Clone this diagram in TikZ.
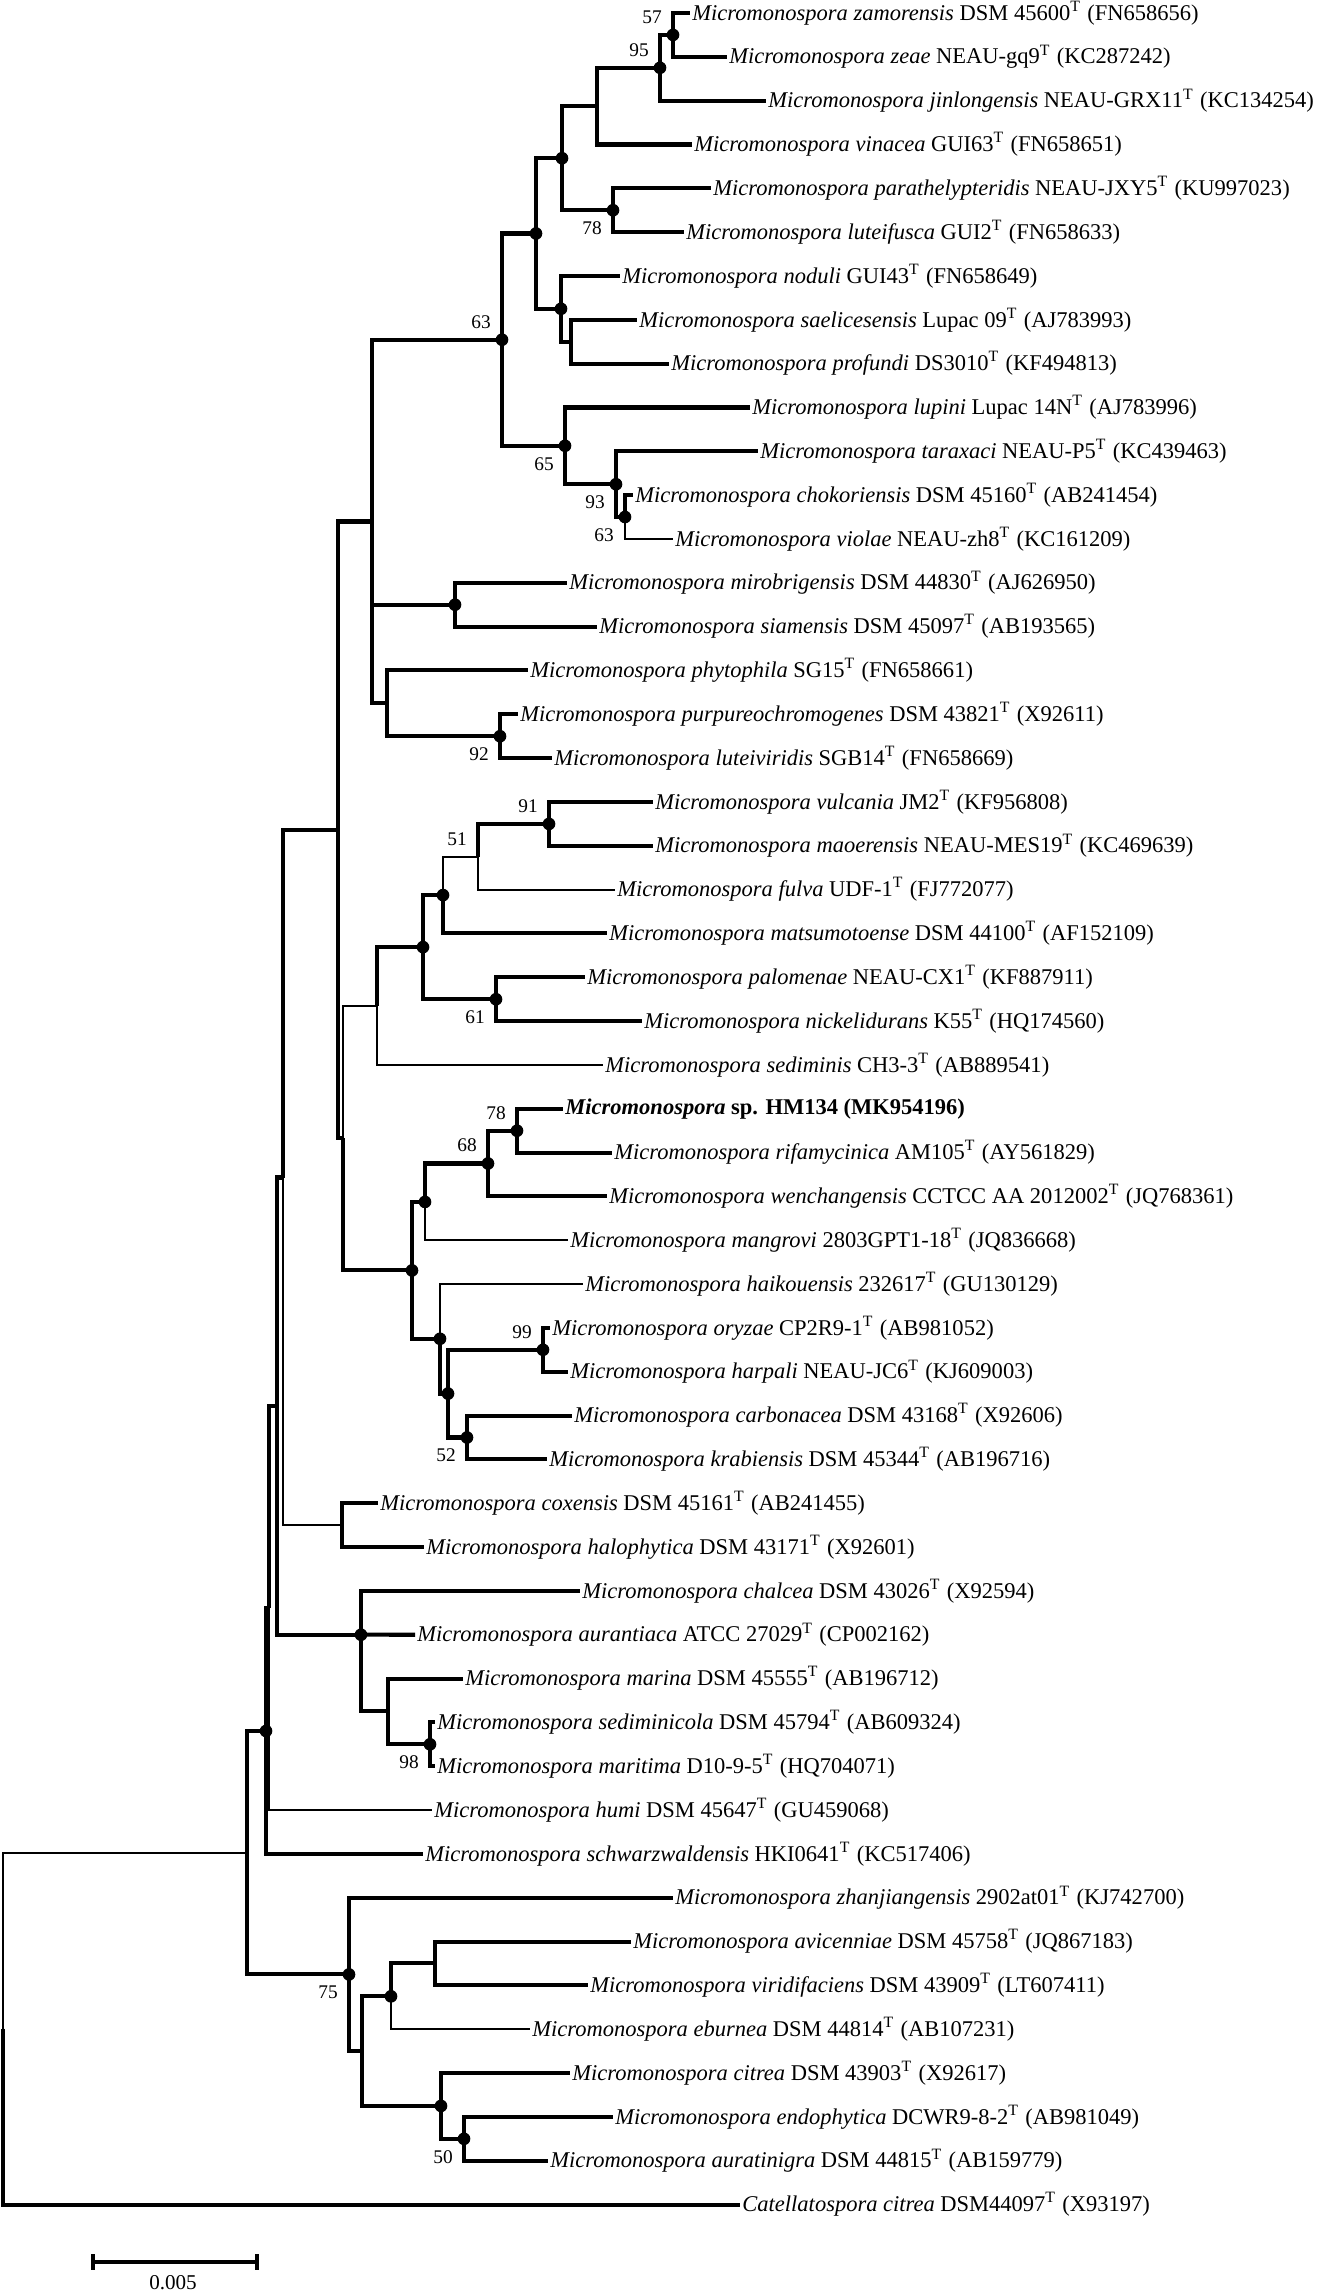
\documentclass[tikz,border=0pt]{standalone}
\usepackage{fontspec}
\setmainfont{Liberation Serif}
\usetikzlibrary{calc}
\tikzstyle{branch}=[line width=1.15pt]
\tikzstyle{thinbranch}=[line width=0.6pt]
\tikzstyle{taxon}=[anchor=west, inner sep=0.5pt, font=\fontsize{6.4}{7}\selectfont]
\tikzstyle{boot}=[inner sep=0pt, font=\fontsize{5.5}{6}\selectfont]
\newcommand{\mic}[1]{\textit{Micromonospora #1}}
\newcommand{\tstrain}{\textsuperscript{T}}

\begin{document}
\begin{tikzpicture}[x=0.01cm, y=-0.01cm]
    \useasboundingbox (0,0) rectangle (1323,2293);

    % taxa, one per row
    \foreach \row/\xe/\name/\txt in {
        1/690/zamo/{\mic{zamorensis} DSM 45600\tstrain{} (FN658656)},
        2/727/zeae/{\mic{zeae} NEAU-gq9\tstrain{} (KC287242)},
        3/766/jinl/{\mic{jinlongensis} NEAU-GRX11\tstrain{} (KC134254)},
        4/692/vina/{\mic{vinacea} GUI63\tstrain{} (FN658651)},
        5/711/para/{\mic{parathelypteridis} NEAU-JXY5\tstrain{} (KU997023)},
        6/684/lute/{\mic{luteifusca} GUI2\tstrain{} (FN658633)},
        7/620/nodu/{\mic{noduli} GUI43\tstrain{} (FN658649)},
        8/637/sael/{\mic{saelicesensis} Lupac 09\tstrain{} (AJ783993)},
        9/669/prof/{\mic{profundi} DS3010\tstrain{} (KF494813)},
        10/750/lupi/{\mic{lupini} Lupac 14N\tstrain{} (AJ783996)},
        11/758/tara/{\mic{taraxaci} NEAU-P5\tstrain{} (KC439463)},
        12/633/chok/{\mic{chokoriensis} DSM 45160\tstrain{} (AB241454)},
        13/673/viol/{\mic{violae} NEAU-zh8\tstrain{} (KC161209)},
        14/567/miro/{\mic{mirobrigensis} DSM 44830\tstrain{} (AJ626950)},
        15/597/siam/{\mic{siamensis} DSM 45097\tstrain{} (AB193565)},
        16/528/phyt/{\mic{phytophila} SG15\tstrain{} (FN658661)},
        17/518/purp/{\mic{purpureochromogenes} DSM 43821\tstrain{} (X92611)},
        18/552/ltvi/{\mic{luteiviridis} SGB14\tstrain{} (FN658669)},
        19/653/vulc/{\mic{vulcania} JM2\tstrain{} (KF956808)},
        20/653/maoe/{\mic{maoerensis} NEAU-MES19\tstrain{} (KC469639)},
        21/615/fulv/{\mic{fulva} UDF-1\tstrain{} (FJ772077)},
        22/607/mats/{\mic{matsumotoense} DSM 44100\tstrain{} (AF152109)},
        23/585/palo/{\mic{palomenae} NEAU-CX1\tstrain{} (KF887911)},
        24/642/nick/{\mic{nickelidurans} K55\tstrain{} (HQ174560)},
        25/603/sedi/{\mic{sediminis} CH3-3\tstrain{} (AB889541)},
        26/563/hmst/{\textbf{\textit{Micromonospora} sp. HM134 (MK954196)}},
        27/612/rifa/{\mic{rifamycinica} AM105\tstrain{} (AY561829)},
        28/607/wenc/{\mic{wenchangensis} CCTCC AA 2012002\tstrain{} (JQ768361)},
        29/568/mang/{\mic{mangrovi} 2803GPT1-18\tstrain{} (JQ836668)},
        30/583/haik/{\mic{haikouensis} 232617\tstrain{} (GU130129)},
        31/550/oryz/{\mic{oryzae} CP2R9-1\tstrain{} (AB981052)},
        32/568/harp/{\mic{harpali} NEAU-JC6\tstrain{} (KJ609003)},
        33/572/carb/{\mic{carbonacea} DSM 43168\tstrain{} (X92606)},
        34/547/krab/{\mic{krabiensis} DSM 45344\tstrain{} (AB196716)},
        35/378/coxe/{\mic{coxensis} DSM 45161\tstrain{} (AB241455)},
        36/424/halo/{\mic{halophytica} DSM 43171\tstrain{} (X92601)},
        37/580/chal/{\mic{chalcea} DSM 43026\tstrain{} (X92594)},
        38/415/aura/{\mic{aurantiaca} ATCC 27029\tstrain{} (CP002162)},
        39/463/mari/{\mic{marina} DSM 45555\tstrain{} (AB196712)},
        40/435/sedc/{\mic{sediminicola} DSM 45794\tstrain{} (AB609324)},
        41/435/mart/{\mic{maritima} D10-9-5\tstrain{} (HQ704071)},
        42/432/humi/{\mic{humi} DSM 45647\tstrain{} (GU459068)},
        43/423/schw/{\mic{schwarzwaldensis} HKI0641\tstrain{} (KC517406)},
        44/673/zhan/{\mic{zhanjiangensis} 2902at01\tstrain{} (KJ742700)},
        45/631/avic/{\mic{avicenniae} DSM 45758\tstrain{} (JQ867183)},
        46/588/viri/{\mic{viridifaciens} DSM 43909\tstrain{} (LT607411)},
        47/530/ebur/{\mic{eburnea} DSM 44814\tstrain{} (AB107231)},
        48/570/citr/{\mic{citrea} DSM 43903\tstrain{} (X92617)},
        49/613/endo/{\mic{endophytica} DCWR9-8-2\tstrain{} (AB981049)},
        50/548/aurt/{\mic{auratinigra} DSM 44815\tstrain{} (AB159779)},
        51/740/cate/{\textit{Catellatospora citrea} DSM44097\tstrain{} (X93197)}}
        \node[taxon] (\name) at (\xe, {13+43.83*(\row-1)}) {\txt};

    % internal nodes
    \foreach \name/\x/\y in {n57/673/34.9, n95/660/67.8, nA/597/106.1, n78/613/210.2,
        nB/562/158.2, nE/571/341.7, nD/561/308.8, nC/536/233.5, n63b/625/517,
        n93/616/484.2, n65/565/445.8, n63/502/339.7, nMiro/455/604.7, n92/500/736.2,
        nPhyto/387/703.3, nF/372/521.5, n91/549/823.9, n51/478/856.7, nG/443/895.1,
        n61/496/999.2, nH/423/947.1, nI/377/1006, n78b/517/1130.7, n68/488/1163.5,
        nK/425/1201.9, n99/543/1349.8, n52/467/1437.5, nM/448/1393.6, nL/440/1338.8,
        nJ/412/1270.4, nO/343/1138.2, nN/338/829.9, nCox/342/1525.1, nP/283/1177.5,
        n98/430/1744.3, nMar/388/1711.4, nAur/361/1634.7, nQ/277/1406.1, nT/269/1608.1,
        nS/266/1731, nX/435/1963.4, nW/391/1996.3, n50/464/2138.8, nY/441/2105.9,
        nV/362/2051.1, n75/349/1974.4, nU/247/1852.7, root/3/2028.6}
        \coordinate (\name) at (\x,\y);

    \foreach \source/\dest in {n95/n57, nA/n95, nB/nA, nB/n78, nC/nB, nC/nD, nD/nE,
        n63/nC, n63/n65, n65/n93, n93/n63b, nF/n63, nF/nMiro, nF/nPhyto, nPhyto/n92,
        nN/nF, nN/nO, nO/nJ, n51/n91, nH/nG, nH/n61, nI/nH, n68/n78b, nK/n68, nJ/nK,
        nJ/nL, nL/nM, nM/n99, nM/n52, nP/nN, nQ/nP, nQ/nAur, nAur/nMar, nMar/n98,
        nT/nQ, nS/nT, nU/nS, nU/n75, n75/nV, nV/nW, nV/nY, nW/nX, nY/n50}
        \draw[branch] (\source) |- (\dest);

    \foreach \source/\dest in {nG/n51, nO/nI, nP/nCox, root/nU}
        \draw[thinbranch] (\source) |- (\dest);

    \foreach \source/\dest in {n57/zamo, n57/zeae, n95/jinl, nA/vina, n78/para, n78/lute,
        nD/nodu, nE/sael, nE/prof, n65/lupi, n93/tara, n63b/chok, nMiro/miro, nMiro/siam,
        nPhyto/phyt, n92/purp, n92/ltvi, n91/vulc, n91/maoe, nG/mats, n61/palo, n61/nick,
        n78b/hmst, n78b/rifa, n68/wenc, n99/oryz, n99/harp, n52/carb, n52/krab,
        nCox/coxe, nCox/halo, nAur/chal, nMar/mari, n98/sedc, n98/mart, nS/schw,
        n75/zhan, nX/avic, nX/viri, nY/citr, n50/endo, n50/aurt, root/cate}
        \draw[branch] (\source) |- (\dest.west);

    \foreach \source/\dest in {n63b/viol, n51/fulv, nI/sedi, nK/mang, nL/haik, nT/humi, nW/ebur}
        \draw[thinbranch] (\source) |- (\dest.west);

    \draw[branch] (nAur) -- (aura.west);

    \foreach \n in {n57, n95, nB, n78, nC, nD, n63, n65, n93, n63b, nMiro, n92, n91,
        nG, nH, n61, n78b, n68, nK, nJ, nL, nM, n99, n52, nAur, n98, nS, n75, nW, nY, n50}
        \fill (\n) circle (1.8pt);

    % bootstrap values
    \foreach \n/\v/\d in {n57/57/-1, n95/95/-1, n78/78/1, n63/63/-1, n65/65/1, n93/93/1,
        n63b/63/1, n92/92/1, n91/91/-1, n51/51/-1, n61/61/1, n78b/78/-1, n68/68/-1,
        n99/99/-1, n52/52/1, n98/98/1, n75/75/1, n50/50/1}
        \node[boot] at ($(\n)+(-21,\d*18)$) {\v};

    % scale bar
    \coordinate (sbl) at (93,2262);
    \coordinate (sbr) at (257,2262);
    \draw[branch] (sbl) -- (sbr);
    \draw[branch] ($(sbl)+(0,-8)$) -- ($(sbl)+(0,8)$);
    \draw[branch] ($(sbr)+(0,-8)$) -- ($(sbr)+(0,8)$);
    \node[boot, font=\fontsize{6}{7}\selectfont] at (173,2283) {0.005};

\end{tikzpicture}
\end{document}
